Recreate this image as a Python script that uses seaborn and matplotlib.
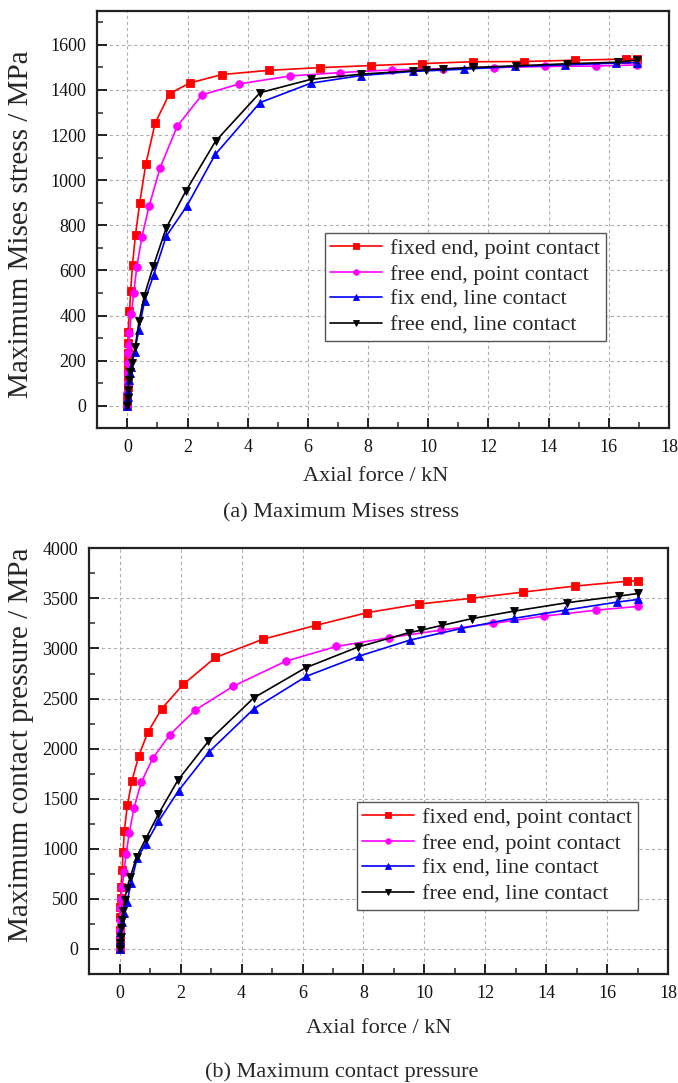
import numpy as np
import pandas as pd
import matplotlib
matplotlib.use("Agg")
import matplotlib.pyplot as plt
from matplotlib.ticker import MultipleLocator
import seaborn as sns

# ---------------- data ----------------
labels = ["fixed end, point contact", "free end, point contact",
          "fix end, line contact", "free end, line contact"]

# (a) Maximum Mises stress
a_fixed_point_x = [0, 0.002, 0.004, 0.006, 0.008, 0.01, 0.014, 0.018, 0.025, 0.07, 0.11, 0.17, 0.27,
                   0.41, 0.61, 0.92, 1.4, 2.08, 3.13, 4.71, 6.4, 8.08, 9.79, 11.48, 13.18, 14.88, 16.56, 16.95]
a_fixed_point_y = [0, 40, 85, 129, 158, 196, 236, 277, 329, 418, 510, 625, 759, 899, 1070, 1252, 1384,
                   1431, 1468, 1487, 1499, 1508, 1517, 1525, 1526, 1532, 1537, 1538]
a_free_point_x = [0, 0.003, 0.006, 0.01, 0.015, 0.025, 0.04, 0.07, 0.13, 0.21, 0.31, 0.48, 0.72, 1.09,
                  1.66, 2.48, 3.72, 5.42, 7.08, 8.79, 10.48, 12.18, 13.87, 15.57, 16.95]
a_free_point_y = [0, 55, 99, 144, 188, 233, 270, 321, 407, 499, 613, 747, 884, 1056, 1240, 1378, 1427,
                  1462, 1477, 1489, 1494, 1499, 1504, 1506, 1511]
a_fix_line_x = [0, 0.005, 0.02, 0.04, 0.08, 0.12, 0.24, 0.38, 0.57, 0.87, 1.29, 1.97, 2.92, 4.41, 6.1,
                7.77, 9.49, 11.18, 12.87, 14.56, 16.24, 16.95]
a_fix_line_y = [0, 40, 70, 114, 144, 173, 240, 336, 465, 578, 751, 884, 1114, 1344, 1430, 1464, 1482,
                1492, 1504, 1511, 1519, 1521]
a_free_line_x = [0, 0.005, 0.02, 0.05, 0.09, 0.14, 0.26, 0.39, 0.56, 0.86, 1.29, 1.94, 2.93, 4.41, 6.1,
                 7.77, 9.49, 9.93, 10.5, 11.48, 12.93, 14.6, 16.3, 16.95]
a_free_line_y = [0, 33, 70, 114, 151, 188, 262, 376, 487, 618, 788, 951, 1173, 1388, 1447, 1470, 1485,
                 1489, 1493, 1500, 1507, 1516, 1523, 1533]

# (b) Maximum contact pressure
b_fixed_point_x = [0, 0.002, 0.005, 0.01, 0.02, 0.03, 0.05, 0.08, 0.11, 0.15, 0.25, 0.40, 0.62, 0.92,
                   1.38, 2.09, 3.14, 4.71, 6.43, 8.12, 9.82, 11.52, 13.24, 14.95, 16.64, 17.03]
b_fixed_point_y = [0, 90, 190, 323, 423, 507, 623, 790, 967, 1180, 1433, 1680, 1923, 2163, 2400, 2643,
                   2910, 3093, 3230, 3357, 3443, 3500, 3563, 3623, 3670, 3677]
b_free_point_x = [0, 0.002, 0.005, 0.01, 0.02, 0.04, 0.08, 0.14, 0.21, 0.31, 0.47, 0.71, 1.09, 1.65,
                  2.47, 3.725, 5.45, 7.11, 8.83, 10.54, 12.25, 13.94, 15.65, 17.03]
b_free_point_y = [0, 90, 190, 290, 407, 500, 623, 773, 947, 1157, 1410, 1667, 1907, 2140, 2383, 2623,
                  2873, 3020, 3107, 3183, 3250, 3323, 3383, 3420]
b_fix_line_x = [0, 0.005, 0.02, 0.08, 0.14, 0.24, 0.37, 0.57, 0.86, 1.27, 1.93, 2.93, 4.40, 6.13, 7.85,
                9.52, 11.22, 12.93, 14.63, 16.33, 17.03]
b_fix_line_y = [0, 90, 173, 273, 357, 473, 657, 907, 1050, 1273, 1580, 1967, 2397, 2723, 2923, 3083,
                3200, 3300, 3383, 3463, 3490]
b_free_line_x = [0, 0.01, 0.03, 0.055, 0.09, 0.12, 0.165, 0.24, 0.35, 0.56, 0.85, 1.27, 1.92, 2.91,
                 4.40, 6.10, 7.81, 9.49, 9.9, 10.57, 11.55, 12.95, 14.69, 16.4, 17.03]
b_free_line_y = [0, 57, 123, 207, 290, 383, 490, 613, 723, 923, 1097, 1347, 1690, 2073, 2507, 2807,
                 3013, 3157, 3183, 3230, 3297, 3373, 3457, 3523, 3550]

x_ticks = list(range(0, 19, 2))
a_y_ticks = list(range(0, 1601, 200))
b_y_ticks = list(range(0, 4001, 500))

colors = ["#ff0000", "#ff00ff", "#0000ff", "#000000"]
markers = ["s", "o", "^", "v"]


def long_df(xs, ys):
    frames = []
    for lab, x, y in zip(labels, xs, ys):
        frames.append(pd.DataFrame({"force": x, "value": y, "case": lab}))
    return pd.concat(frames, ignore_index=True)


df_a = long_df([a_fixed_point_x, a_free_point_x, a_fix_line_x, a_free_line_x],
               [a_fixed_point_y, a_free_point_y, a_fix_line_y, a_free_line_y])
df_b = long_df([b_fixed_point_x, b_free_point_x, b_fix_line_x, b_free_line_x],
               [b_fixed_point_y, b_free_point_y, b_fix_line_y, b_free_line_y])

# ---------------- style ----------------
sns.set_theme(style="white")
plt.rcParams["font.family"] = ["Liberation Serif", "DejaVu Serif"]

W, H = 678, 1083
fig = plt.figure(figsize=(W / 100, H / 100), dpi=100)

ax_a = fig.add_axes([97.3 / W, 1 - 428.3 / H, (669 - 97.3) / W, (428.3 - 11) / H])
ax_b = fig.add_axes([89.3 / W, 1 - 974 / H, (668 - 89.3) / W, (974 - 548.3) / H])

palette = dict(zip(labels, colors))
mk = dict(zip(labels, markers))


def draw(ax, df, yticks, ylim, minor_y, leg_anchor):
    sns.lineplot(data=df, x="force", y="value", hue="case", style="case",
                 hue_order=labels, style_order=labels, palette=palette,
                 markers=mk, dashes=False, sort=False, estimator=None,
                 ax=ax, linewidth=1.2, markersize=5.5, markeredgewidth=0.6, legend=True)
    for line in ax.get_lines():
        line.set_markeredgecolor(line.get_color())
    ax.set_xlim(-1, 18)
    ax.set_ylim(*ylim)
    ax.set_xticks(x_ticks)
    ax.set_yticks(yticks)
    ax.xaxis.set_minor_locator(MultipleLocator(1))
    ax.yaxis.set_minor_locator(MultipleLocator(minor_y))
    ax.tick_params(axis="both", which="major", direction="in", length=7, width=1.3,
                   labelsize=13, colors="#111111", pad=8,
                   bottom=True, left=True, top=False, right=False)
    ax.tick_params(axis="both", which="minor", direction="in", length=4, width=1.1,
                   bottom=True, left=True, top=False, right=False)
    ax.grid(True, which="major", color="#b0b0b0", linestyle=(0, (3, 2.5)), linewidth=0.8)
    ax.set_axisbelow(True)
    for sp in ax.spines.values():
        sp.set_linewidth(1.6)
        sp.set_color("#222222")
    ax.set_xlabel("")
    ax.set_ylabel("")
    handles, labs = ax.get_legend_handles_labels()
    leg = ax.legend(handles, labs, loc="upper right", bbox_to_anchor=leg_anchor,
                    bbox_transform=fig.transFigure, fontsize=16, frameon=True,
                    fancybox=False, framealpha=1, edgecolor="#555555",
                    handlelength=2.3, handletextpad=0.4, labelspacing=0.22,
                    borderpad=0.25, borderaxespad=0)
    leg.get_frame().set_linewidth(1.0)
    for h in leg.legend_handles:
        try:
            h.set_markersize(4)
        except Exception:
            pass


draw(ax_a, df_a, a_y_ticks, (-100, 1750), 100, (606 / W, 1 - 233 / H))
draw(ax_b, df_b, b_y_ticks, (-250, 4000), 250, (638 / W, 1 - 802 / H))

# labels and captions
fig.text(375.5 / W, 1 - 476.7 / H, "Axial force / kN", ha="center", va="center", fontsize=16)
fig.text(341 / W, 1 - 513.3 / H, "(a) Maximum Mises stress", ha="center", va="center", fontsize=16)
fig.text(379 / W, 1 - 1028.3 / H, "Axial force / kN", ha="center", va="center", fontsize=16)
fig.text(341.6 / W, 1 - 1071.7 / H, "(b) Maximum contact pressure", ha="center", va="center", fontsize=16)
fig.text(21 / W, 1 - 224 / H, "Maximum Mises stress / MPa", ha="center", va="center",
         rotation=90, fontsize=21)
fig.text(21 / W, 1 - 745 / H, "Maximum contact pressure / MPa", ha="center", va="center",
         rotation=90, fontsize=21)

fig.savefig("out.png", dpi=100, facecolor="white")
